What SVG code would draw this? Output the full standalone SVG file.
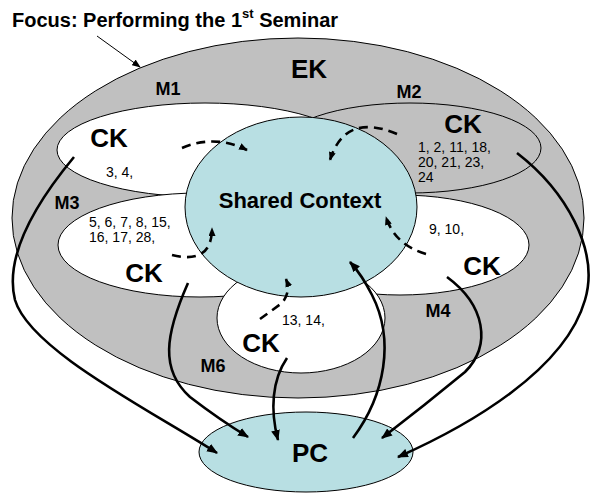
<svg xmlns="http://www.w3.org/2000/svg" width="590" height="494" viewBox="0 0 590 494">
<style>
text{font-family:"Liberation Sans",Arial,sans-serif;fill:#000}
.b{font-weight:bold}
.ck{font-size:26px;font-weight:bold}
.m{font-size:18px;font-weight:bold}
.n{font-size:14px}
.o{stroke:#000;stroke-width:1}
.c{fill:none;stroke:#000;stroke-width:2.6}
.d{fill:none;stroke:#000;stroke-width:2.6;stroke-dasharray:9 6}
</style>
<defs>
<marker id="ah" viewBox="0 0 10 8" refX="9" refY="4" markerWidth="11" markerHeight="9" markerUnits="userSpaceOnUse" orient="auto"><path d="M0,0 L10,4 L0,8 z" fill="#000" stroke="none"/></marker>
<marker id="as" viewBox="0 0 10 8" refX="9" refY="4" markerWidth="9" markerHeight="7" markerUnits="userSpaceOnUse" orient="auto"><path d="M0,0 L10,4 L0,8 z" fill="#000" stroke="none"/></marker>
</defs>
<text x="12" y="27" class="b" font-size="20">Focus: Performing the 1<tspan font-size="13" dy="-9">st</tspan><tspan dy="9"> Seminar</tspan></text>
<g id="EK">
<ellipse cx="298" cy="218" rx="286" ry="180" fill="#c0c0c0" class="o"/>
<text x="309" y="78" class="ck" text-anchor="middle">EK</text>
</g>
<g id="M1">
<ellipse cx="205" cy="150" rx="148" ry="47" fill="#fff" class="o"/>
<text x="168" y="95" class="m" text-anchor="middle">M1</text>
<text x="109" y="147" class="ck" text-anchor="middle">CK</text>
<text x="106" y="177" class="n">3, 4,</text>
</g>
<g id="M2">
<ellipse cx="410" cy="148" rx="131" ry="45" fill="#c0c0c0" class="o"/>
<text x="409" y="98" class="m" text-anchor="middle">M2</text>
<text x="463" y="133" class="ck" text-anchor="middle">CK</text>
<text x="418" y="152" class="n">1, 2, 11, 18,</text>
<text x="418" y="167" class="n">20, 21, 23,</text>
<text x="418" y="182" class="n">24</text>
</g>
<g id="M3">
<ellipse cx="200" cy="245" rx="142" ry="52" fill="#fff" class="o"/>
<text x="67" y="209" class="m" text-anchor="middle">M3</text>
<text x="89" y="227" class="n">5, 6, 7, 8, 15,</text>
<text x="89" y="242" class="n">16, 17, 28,</text>
<text x="144" y="282" class="ck" text-anchor="middle">CK</text>
</g>
<g id="M4">
<ellipse cx="400" cy="245" rx="129" ry="50" fill="#fff" class="o"/>
<text x="429" y="234" class="n">9, 10,</text>
<text x="482" y="275" class="ck" text-anchor="middle">CK</text>
<text x="438" y="317" class="m" text-anchor="middle">M4</text>
</g>
<g id="M6">
<ellipse cx="301" cy="318" rx="84" ry="55" fill="#fff" class="o"/>
<text x="282" y="325" class="n">13, 14,</text>
<text x="261" y="352" class="ck" text-anchor="middle">CK</text>
<text x="213" y="372" class="m" text-anchor="middle">M6</text>
</g>
<g id="SC">
<ellipse cx="301" cy="207" rx="116" ry="90" fill="#b8dfe3" class="o"/>
<text x="300" y="208" class="b" font-size="22" text-anchor="middle">Shared Context</text>
</g>
<g id="PC">
<ellipse cx="306" cy="452" rx="107" ry="40" fill="#b8dfe3" class="o"/>
<text x="310" y="462" class="ck" text-anchor="middle">PC</text>
</g>
<g id="connectors">
<path d="M97,36 L140,67" fill="none" stroke="#000" stroke-width="1" marker-end="url(#as)"/>
<path class="d" d="M182,148 Q215,134 247,150" marker-end="url(#as)"/>
<path class="d" d="M397,134 Q345,112 330,160" marker-end="url(#as)"/>
<path class="d" d="M172,255 Q212,265 212,228" marker-end="url(#as)"/>
<path class="d" d="M426,254 Q395,245 386,217" marker-end="url(#as)"/>
<path class="d" d="M260,319 L282,303 Q291,292 286,279" marker-end="url(#as)"/>
<path class="c" d="M74,157 C30,210 5,260 15,300 C30,350 150,410 217,453" marker-end="url(#ah)"/>
<path class="c" d="M188,283 C165,335 160,370 190,397 Q220,420 248,437" marker-end="url(#ah)"/>
<path class="c" d="M287,358 C272,380 270,410 278,440" marker-end="url(#ah)"/>
<path class="c" d="M353,438 C385,395 395,340 372,295 Q362,275 350,262" marker-end="url(#ah)"/>
<path class="c" d="M447,277 C485,305 492,345 465,372 Q425,405 382,438" marker-end="url(#ah)"/>
<path class="c" d="M517,153 C565,190 600,250 585,300 C565,370 470,425 398,457" marker-end="url(#ah)"/>
</g>
</svg>
